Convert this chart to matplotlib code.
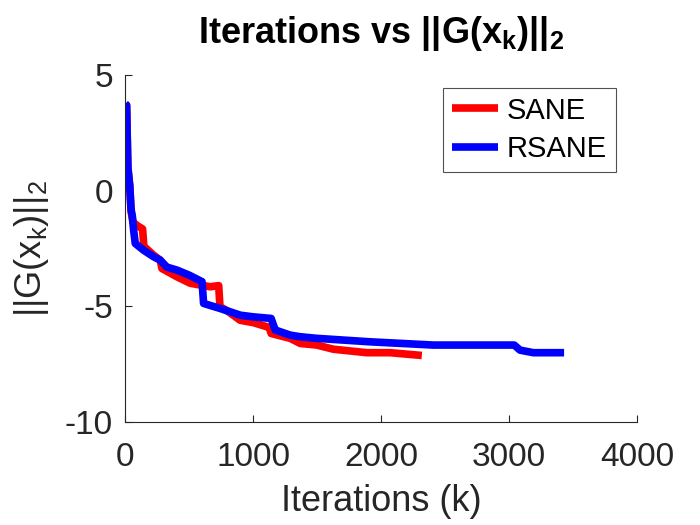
import matplotlib
matplotlib.use('Agg')
import matplotlib.pyplot as plt

plt.rcParams['font.family'] = ['Liberation Sans', 'DejaVu Sans']
plt.rcParams['mathtext.fontset'] = 'custom'
plt.rcParams['mathtext.rm'] = 'Liberation Sans'
plt.rcParams['mathtext.bf'] = 'Liberation Sans:bold'
plt.rcParams['axes.unicode_minus'] = False

# SANE (red)
sane_k = [0, 10, 20, 35, 45, 60, 91, 135, 145, 220, 273, 286, 404, 508, 664, 730,
          740, 800, 898, 1000, 1107, 1125, 1140, 1289, 1367, 1497, 1627, 1888,
          2070, 2318]
sane_g = [3.75, 3.7, 1.0, 0.2, -0.9, -1.35, -1.5, -1.65, -2.4, -2.78, -3.0, -3.36,
          -3.72, -4.0, -4.15, -4.1, -5.01, -5.2, -5.6, -5.7, -5.88, -5.9, -6.17,
          -6.38, -6.6, -6.67, -6.85, -7.0, -7.0, -7.12]

# RSANE (blue)
rsane_k = [0, 10, 20, 35, 45, 55, 65, 78, 143, 220, 273, 325, 404, 500, 600, 612,
           742, 900, 1000, 1140, 1172, 1289, 1367, 1497, 1914, 2409, 3040, 3086,
           3190, 3430]
rsane_g = [3.75, 3.7, 1.0, 0.2, -0.8, -1.1, -1.7, -2.28, -2.57, -2.85, -3.0, -3.3,
           -3.43, -3.65, -3.93, -4.87, -5.09, -5.38, -5.45, -5.52, -6.02, -6.24,
           -6.31, -6.38, -6.53, -6.67, -6.67, -6.89, -7.0, -7.0]

fig = plt.figure(figsize=(7, 5.25), dpi=100)
ax = fig.add_axes([0.179, 0.196, 0.731, 0.661])

ax.plot(sane_k, sane_g, color='red', lw=5.5, label='SANE', solid_capstyle='butt')
ax.plot(rsane_k, rsane_g, color='blue', lw=5.5, label='RSANE', solid_capstyle='butt')

ax.set_xlim(0, 4000)
ax.set_ylim(-10, 5)
ax.set_xticks([0, 1000, 2000, 3000, 4000])
ax.set_yticks([-10, -5, 0, 5])

ax.spines['top'].set_visible(False)
ax.spines['right'].set_visible(False)
for s in ['left', 'bottom']:
    ax.spines[s].set_color('#262626')
    ax.spines[s].set_linewidth(0.8)
ax.tick_params(direction='in', length=5, width=0.8, colors='#262626',
               labelsize=24, labelcolor='#262626')
ax.tick_params(axis='x', pad=14)
ax.tick_params(axis='y', pad=9)

ax.set_xlabel('Iterations (k)', fontsize=26, color='#262626', labelpad=8)
ax.set_ylabel(r'$\mathregular{||G(x_k)||_2}$', fontsize=26, color='#262626',
              labelpad=10)
ax.set_title(r'Iterations vs $\mathbf{||G(x_k)||_2}$', fontsize=26,
             fontweight='bold', pad=23)

leg = ax.legend(loc='upper right', fontsize=21, frameon=True, fancybox=False,
                edgecolor='#262626', handlelength=1.6, handletextpad=0.3,
                borderpad=0.3, labelspacing=0.35, borderaxespad=0,
                bbox_to_anchor=(0.959, 0.963))
leg.get_frame().set_linewidth(0.8)

fig.savefig('out.png', dpi=100)
